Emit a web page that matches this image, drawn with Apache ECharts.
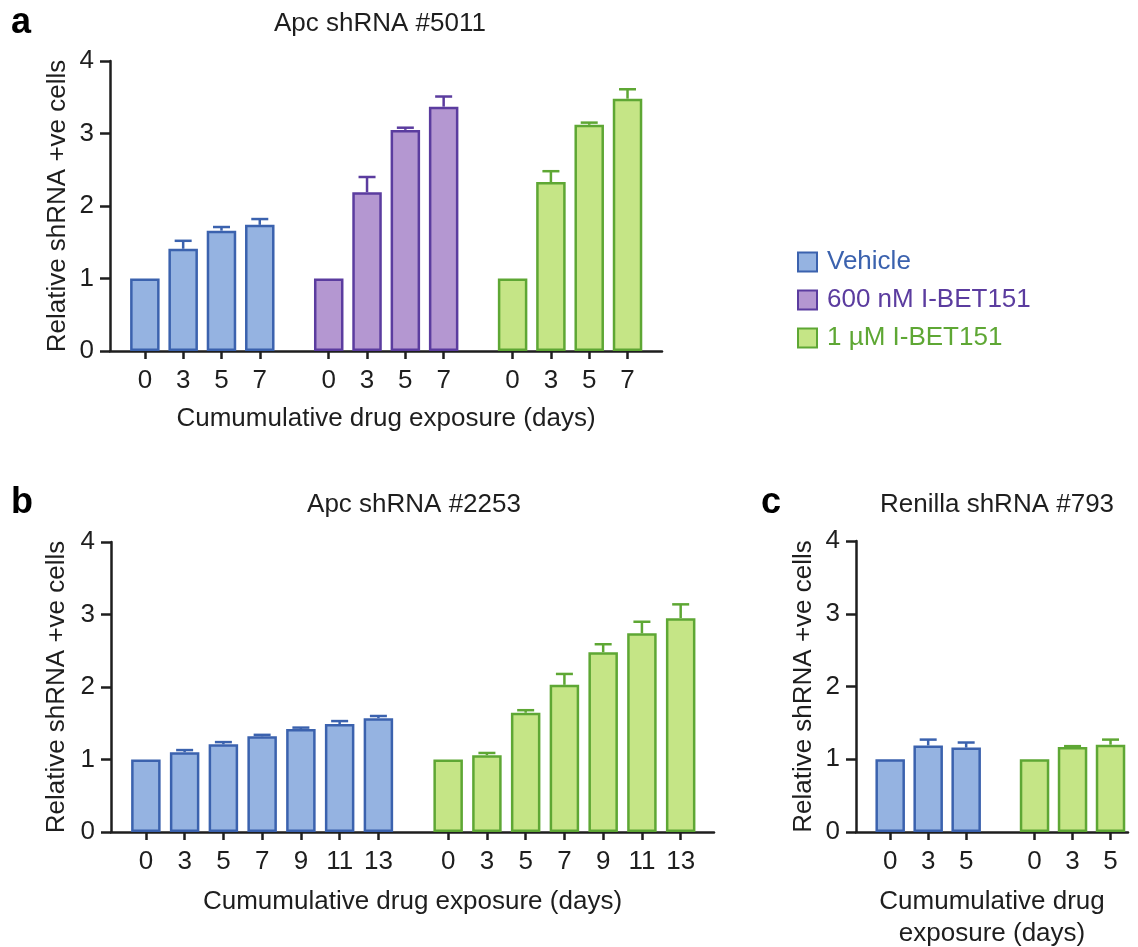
<!DOCTYPE html>
<html>
<head>
<meta charset="utf-8">
<title>shRNA enrichment under I-BET151</title>
<script src="https://cdn.jsdelivr.net/npm/echarts@6/dist/echarts.min.js"></script>
<style>
  html, body { margin: 0; padding: 0; background: #ffffff; }
  #chart { width: 1138px; height: 947px; }
</style>
</head>
<body>
<div id="chart"></div>
<script>
// Treatment groups shown in every panel
const seriesNames = ['Vehicle', '600 nM I-BET151', '1 µM I-BET151'];

// Panel a: Apc shRNA #5011
const daysA = ['0', '3', '5', '7'];
const vehicleA = [1.00, 1.41, 1.66, 1.74];
const vehicleAErr = [0, 0.11, 0.05, 0.08];
const midA = [1.00, 2.19, 3.05, 3.37];
const midAErr = [0, 0.21, 0.03, 0.14];
const highA = [1.00, 2.33, 3.12, 3.48];
const highAErr = [0, 0.15, 0.03, 0.13];

// Panel b: Apc shRNA #2253
const daysB = ['0', '3', '5', '7', '9', '11', '13'];
const vehicleB = [1.00, 1.10, 1.21, 1.32, 1.42, 1.49, 1.57];
const vehicleBErr = [0, 0.03, 0.03, 0.02, 0.02, 0.04, 0.03];
const highB = [1.00, 1.06, 1.645, 2.03, 2.48, 2.74, 2.95];
const highBErr = [0, 0.03, 0.035, 0.15, 0.11, 0.16, 0.19];

// Panel c: Renilla shRNA #793
const daysC = ['0', '3', '5'];
const vehicleC = [1.00, 1.19, 1.16];
const vehicleCErr = [0, 0.08, 0.07];
const highC = [1.00, 1.17, 1.20];
const highCErr = [0, 0.01, 0.07];

// Y axis ticks shared by all panels
const yTicks = [0, 1, 2, 3, 4];

const FONT = '"Liberation Sans", Arial, Helvetica, sans-serif';
const INK = '#1e1e1e';
const STYLE = {
  'Vehicle':         { fill: '#95b3e1', line: '#3b62ae' },
  '600 nM I-BET151': { fill: '#b497d1', line: '#5b3c9f' },
  '1 µM I-BET151':   { fill: '#c5e586', line: '#5ea734' }
};
const GROUP_GAP = 0.8;   // extra space between treatment groups, in bar slots
const BAR_PX = 29.5;
const LINE_W = 2.5;

const panels = [
  { days: daysA, groups: [
      { name: seriesNames[0], values: vehicleA, errs: vehicleAErr },
      { name: seriesNames[1], values: midA, errs: midAErr },
      { name: seriesNames[2], values: highA, errs: highAErr } ],
    grid: { left: 110, top: 61, width: 552, height: 290 }, xRange: [-0.91, 13.5],
    xName: 'Cumumulative drug exposure (days)', xNameGap: 52 },
  { days: daysB, groups: [
      { name: seriesNames[0], values: vehicleB, errs: vehicleBErr },
      { name: seriesNames[2], values: highB, errs: highBErr } ],
    grid: { left: 111, top: 542, width: 603, height: 290 }, xRange: [-0.9, 14.66],
    xName: 'Cumumulative drug exposure (days)', xNameGap: 54 },
  { days: daysC, groups: [
      { name: seriesNames[0], values: vehicleC, errs: vehicleCErr },
      { name: seriesNames[2], values: highC, errs: highCErr } ],
    grid: { left: 856, top: 541, width: 272, height: 291 }, xRange: [-0.9, 6.26],
    xName: 'Cumumulative drug\nexposure (days)', xNameGap: 54 }
];

const grids = [], xAxes = [], yAxes = [], series = [];

panels.forEach(function (p, pi) {
  const n = p.days.length;
  const positions = [], labels = [];
  p.groups.forEach(function (g, gi) {
    p.days.forEach(function (d, j) {
      positions.push(gi * (n + GROUP_GAP) + j);
      labels.push(d);
    });
  });
  const labelFor = function (v) {
    let best = 0;
    positions.forEach(function (q, k) {
      if (Math.abs(q - v) < Math.abs(positions[best] - v)) best = k;
    });
    return labels[best];
  };

  grids.push(Object.assign({ containLabel: false, outerBoundsMode: 'none' }, p.grid));
  xAxes.push({
    type: 'value', gridIndex: pi, min: p.xRange[0], max: p.xRange[1],
    axisLine: { show: true, onZero: false, lineStyle: { color: INK, width: LINE_W } },
    axisTick: { show: true, customValues: positions, length: 8, lineStyle: { color: INK, width: LINE_W } },
    axisLabel: { customValues: positions, formatter: labelFor, margin: 17,
      color: INK, fontSize: 26, fontFamily: FONT },
    splitLine: { show: false },
    name: p.xName, nameLocation: 'middle', nameGap: p.xNameGap,
    nameTextStyle: { color: INK, fontSize: 26, fontFamily: FONT, lineHeight: 32 }
  });
  yAxes.push({
    type: 'value', gridIndex: pi, min: yTicks[0], max: yTicks[yTicks.length - 1], interval: 1,
    axisLine: { show: true, onZero: false, lineStyle: { color: INK, width: LINE_W } },
    axisTick: { show: true, length: 10, lineStyle: { color: INK, width: LINE_W } },
    axisLabel: { margin: 16, color: INK, fontSize: 26, fontFamily: FONT },
    splitLine: { show: false },
    name: 'Relative shRNA +ve cells', nameLocation: 'middle', nameGap: 39,
    nameTextStyle: { color: INK, fontSize: 26, fontFamily: FONT }
  });

  p.groups.forEach(function (g, gi) {
    const st = STYLE[g.name];
    const pts = g.values.map(function (v, j) { return [gi * (n + GROUP_GAP) + j, v]; });
    series.push({
      type: 'bar', name: g.name, xAxisIndex: pi, yAxisIndex: pi,
      data: pts, barWidth: BAR_PX, barGap: '-100%',
      itemStyle: { color: st.fill, borderColor: st.line, borderWidth: LINE_W },
      emphasis: { disabled: true }, z: 2
    });
    series.push({
      type: 'custom', xAxisIndex: pi, yAxisIndex: pi, z: 3, silent: true,
      data: g.values.map(function (v, j) { return [pts[j][0], v, g.errs[j]]; }),
      encode: { x: 0, y: 1 },
      renderItem: function (params, api) {
        const e = api.value(2);
        if (!(e > 0)) return;
        const x = api.value(0), v = api.value(1);
        const base = api.coord([x, v]);
        const top = api.coord([x, v + e]);
        const half = 8.5;
        return {
          type: 'group',
          children: [
            { type: 'line', shape: { x1: base[0], y1: base[1], x2: top[0], y2: top[1] },
              style: { stroke: st.line, lineWidth: LINE_W } },
            { type: 'line', shape: { x1: top[0] - half, y1: top[1], x2: top[0] + half, y2: top[1] },
              style: { stroke: st.line, lineWidth: LINE_W } }
          ]
        };
      }
    });
  });
});

const titleText = { color: INK, fontSize: 26, fontWeight: 'normal', fontFamily: FONT };
const letterText = { color: '#000000', fontSize: 36, fontWeight: 'bold', fontFamily: FONT };

const option = {
  animation: false,
  backgroundColor: '#ffffff',
  title: [
    { text: 'Apc shRNA #5011', left: 380, top: 11, textAlign: 'center', padding: 0, textStyle: titleText },
    { text: 'Apc shRNA #2253', left: 414, top: 492, textAlign: 'center', padding: 0, textStyle: titleText },
    { text: 'Renilla shRNA #793', left: 997, top: 492, textAlign: 'center', padding: 0, textStyle: titleText },
    { text: 'a', left: 11, top: 5, padding: 0, textStyle: letterText },
    { text: 'b', left: 11, top: 485, padding: 0, textStyle: letterText },
    { text: 'c', left: 761, top: 485, padding: 0, textStyle: letterText }
  ],
  legend: {
    orient: 'vertical', left: 792, top: 244, icon: 'rect',
    itemWidth: 19, itemHeight: 19, itemGap: 12, selectedMode: false,
    textStyle: { fontSize: 26, fontFamily: FONT, padding: [0, 0, 0, 5] },
    data: seriesNames.map(function (nm) {
      return { name: nm, textStyle: { color: STYLE[nm].line } };
    })
  },
  grid: grids,
  xAxis: xAxes,
  yAxis: yAxes,
  series: series
};

const chart = echarts.init(document.getElementById('chart'), null, { renderer: 'canvas' });
chart.setOption(option);
</script>
</body>
</html>
